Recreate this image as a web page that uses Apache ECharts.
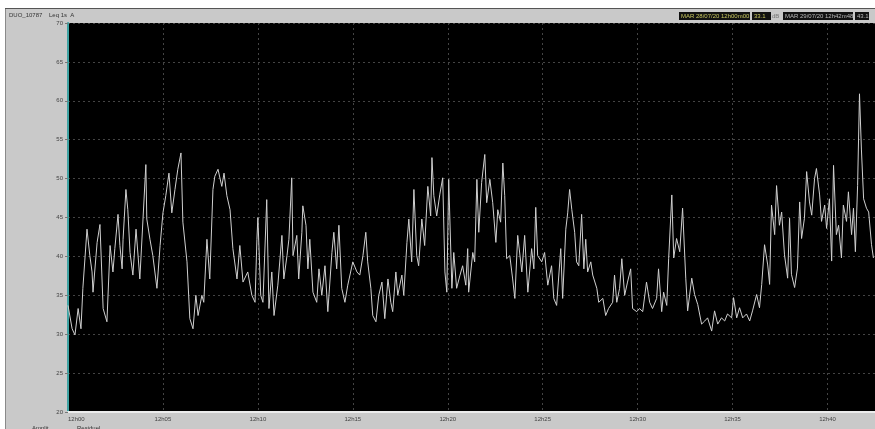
<!DOCTYPE html>
<html>
<head>
<meta charset="utf-8">
<script src="https://cdn.jsdelivr.net/npm/echarts@6/dist/echarts.min.js"></script>
<style>
html,body{margin:0;padding:0;background:#fff;}
#c{width:875px;height:429px;}
</style>
</head>
<body>
<div id="c"></div>
<script>
// time since 12h00m00 (seconds)
const secs = [0,13,22,32,41,47,60,69,76,79,92,101,111,123,133,142,148,158,164,171,174,183,189,196,205,215,227,237,246,249,259,268,281,291,300,309,319,328,338,347,357,363,376,385,395,404,411,423,429,439,448,458,464,474,486,493,502,512,521,534,543,553,568,581,591,597,600,609,616,628,635,644,651,663,676,682,692,698,707,711,723,729,739,742,752,758,764,774,786,793,802,812,821,834,840,849,856,865,875,884,900,913,922,932,941,947,957,963,973,982,992,1001,1011,1020,1026,1036,1042,1055,1061,1071,1077,1086,1093,1102,1108,1118,1127,1137,1146,1150,1156,1165,1175,1184,1191,1197,1203,1213,1219,1228,1238,1247,1257,1263,1266,1279,1285,1292,1298,1307,1317,1323,1333,1342,1352,1358,1367,1374,1380,1386,1396,1405,1412,1421,1434,1443,1453,1465,1472,1478,1484,1497,1506,1516,1528,1535,1544,1557,1563,1573,1579,1585,1592,1601,1607,1614,1623,1630,1636,1642,1652,1658,1671,1677,1690,1699,1708,1721,1727,1734,1743,1750,1759,1768,1778,1784,1797,1806,1816,1828,1838,1847,1860,1866,1876,1882,1892,1898,1908,1914,1923,1933,1942,1952,1958,1971,1980,1990,2002,2012,2021,2034,2043,2053,2065,2075,2084,2097,2103,2113,2122,2132,2144,2154,2163,2176,2185,2192,2201,2211,2217,2223,2233,2239,2248,2255,2264,2274,2280,2286,2296,2305,2312,2318,2327,2334,2343,2350,2359,2365,2375,2381,2391,2397,2406,2413,2419,2428,2435,2444,2450,2460,2466,2476,2482,2488,2495,2501,2507,2514,2523,2530,2539,2545];
// Leq 1s A, dB
const leq = [33.7,30.7,29.9,33.3,30.7,35.9,43.5,40.1,38,35.4,41.8,44.1,33.3,31.6,41.4,38,41,45.4,41.4,38.4,42.2,48.6,46,40.5,37.6,43.5,37.1,44.8,51.8,44.8,42.2,40.1,35.9,41.4,45.6,47.8,50.7,45.6,48.6,51.2,53.3,44.4,39.3,32,30.7,35,32.4,35,34.1,42.2,37.1,48.6,50.3,51.2,49,50.7,47.8,46,41,37.1,41.4,36.7,38,35,34.1,42.2,45,35,34.1,47.3,33.3,38,32.4,36.3,42.7,37.1,40.1,42.2,50.1,40.1,42.7,37.1,43.1,46.5,44,38.4,42.2,35.4,34.1,38.4,35,38.8,32.9,40.5,43.1,38.4,44,35.9,34.1,36.3,39.3,38,37.6,40.1,43.1,39.3,35.9,32.4,31.6,35,36.7,32,37.1,34.1,32.9,38,35,37.6,35,41.8,44.8,39.3,48.6,40.1,38.8,44.8,41.4,49,45.2,52.7,47.8,45.2,48,50.1,38,35.4,49.9,35.9,40.5,35.9,37.5,38.8,36.3,41,35.4,40.5,39.3,49.9,43.1,49.5,53.1,46.9,49.9,46.9,41.8,46,44.4,52,47.8,39.7,40.1,37.1,34.6,42.7,38,42.7,35.4,41,38.4,46.3,40.1,39.3,40.5,36.3,38.8,34.6,33.7,41,34.6,43.5,45.6,48.6,46,43.1,39.3,38.8,45.4,38.4,42.2,38,39.3,37.6,35.9,34.1,34.6,32.4,33.3,34.1,37.6,34.1,35.9,39.7,35,36.7,38.4,33.3,32.9,33.3,32.9,36.7,34.1,33.3,34.6,38.4,32.9,35.4,33.7,39.7,47.9,39.8,42.3,40.6,46.2,37.2,33,37.2,35.1,33.8,31.3,31.7,32.1,30.4,33,31.3,32.1,31.7,32.6,32.1,34.7,32.1,33.4,32.1,32.6,31.7,33,35.1,33.4,36.4,41.5,38.9,36.4,46.6,42.8,49.1,44,45.7,40.2,37.2,44.9,37.7,36,38.5,47,42.3,44.9,50.9,47,45.3,50,51.3,47.9,44.5,46.6,43.6,47.4,39.4,51.7,42.8,44,39.8,46.6,44.5,48.3,42.8,46.2,40.6,49.1,60.9,53.8,47.4,46.2,45.7,41.5,39.8];
const yTicks = [20,25,30,35,40,45,50,55,60,65,70];
const xTickLabels = ['12h00','12h05','12h10','12h15','12h20','12h25','12h30','12h35','12h40'];
const titleText = 'DUO_10787    Leq 1s  A';
const cursor1 = ['MAR 28/07/20 12h00m00','33.1','dB'];
const cursor2 = ['MAR 29/07/20 12h42m48','43.1'];

const chart = echarts.init(document.getElementById('c'), null, {renderer:'canvas'});
const data = secs.map((s,i)=>[s, leq[i]]);
const font = 'Liberation Sans, Arial, sans-serif';

chart.setOption({
  animation:false,
  backgroundColor:'#c9c9c9',
  grid:{left:68,right:0,top:23,bottom:17,show:true,backgroundColor:'#000',borderWidth:0},
  xAxis:{
    type:'value',min:0,max:2550,interval:300,
    axisLine:{show:true,onZero:false,lineStyle:{color:'#ececec',width:2}},
    axisTick:{show:false},
    axisLabel:{color:'#444',fontSize:6,fontFamily:font,margin:4,alignMinLabel:'left',showMaxLabel:false,
      formatter:v=>xTickLabels[Math.round(v/300)]||''},
    splitLine:{show:true,lineStyle:{color:'#444',type:[2,3],width:1}}
  },
  yAxis:{
    type:'value',min:20,max:70,interval:5,
    axisLine:{show:true,lineStyle:{color:'#3fa3a3',width:2}},
    axisTick:{show:true,length:3,lineStyle:{color:'#777'}},
    axisLabel:{color:'#444',fontSize:6,fontFamily:font,margin:5,
      formatter:v=>yTicks.includes(v)?String(v):''},
    splitLine:{show:true,lineStyle:{color:'#444',type:[2,3],width:1}}
  },
  series:[{
    type:'line',data:data,showSymbol:false,
    lineStyle:{color:'#d0d0d0',width:1},
    z:5
  }],
  graphic:[
    {type:'rect',shape:{x:0,y:0,width:875,height:8},style:{fill:'#ffffff'},silent:true},
    {type:'rect',shape:{x:0,y:8,width:875,height:1},style:{fill:'#555'},silent:true},
    {type:'rect',shape:{x:0,y:0,width:5,height:429},style:{fill:'#ffffff'},silent:true},
    {type:'rect',shape:{x:5,y:9,width:1,height:420},style:{fill:'#8a8a8a'},silent:true},
    {type:'text',left:9,top:12,style:{text:titleText,fill:'#333',fontSize:6,fontFamily:font}},
    {type:'rect',shape:{x:679,y:12,width:71,height:8},style:{fill:'#111'}},
    {type:'text',left:681,top:13,style:{text:cursor1[0],fill:'#c8c860',fontSize:6,fontFamily:font}},
    {type:'rect',shape:{x:752,y:12,width:19,height:8},style:{fill:'#111'}},
    {type:'text',left:754,top:13,style:{text:cursor1[1],fill:'#c8c860',fontSize:6,fontFamily:font}},
    {type:'text',left:772,top:13,style:{text:cursor1[2],fill:'#777',fontSize:6,fontFamily:font}},
    {type:'rect',shape:{x:783,y:12,width:70,height:8},style:{fill:'#111'}},
    {type:'text',left:785,top:13,style:{text:cursor2[0],fill:'#bbbbbb',fontSize:6,fontFamily:font}},
    {type:'rect',shape:{x:855,y:12,width:14,height:8},style:{fill:'#111'}},
    {type:'text',left:857,top:13,style:{text:cursor2[1],fill:'#bbbbbb',fontSize:6,fontFamily:font}},
    {type:'text',left:32,top:425,style:{text:'Amplit.',fill:'#333',fontSize:6,fontFamily:font}},
    {type:'text',left:77,top:425,style:{text:'Residuel',fill:'#333',fontSize:6,fontFamily:font}}
  ]
});
</script>
</body>
</html>
